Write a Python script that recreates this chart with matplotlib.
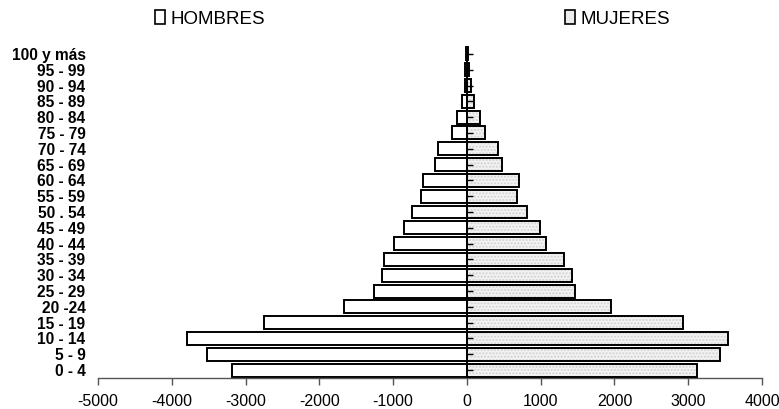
import numpy as np
import matplotlib.pyplot as plt
from matplotlib.patches import Patch

plt.rcParams['font.family'] = ['Liberation Sans', 'DejaVu Sans']

# grupos de edad (de abajo hacia arriba)
grupos = ['0 - 4', '5 - 9', '10 - 14', '15 - 19', '20 -24', '25 - 29', '30 - 34',
          '35 - 39', '40 - 44', '45 - 49', '50 . 54', '55 - 59', '60 - 64', '65 - 69',
          '70 - 74', '75 - 79', '80 - 84', '85 - 89', '90 - 94', '95 - 99', '100 y más']

hombres = [-3180, -3520, -3790, -2745, -1670, -1255, -1150, -1130, -990, -850, -750,
           -620, -600, -430, -390, -200, -135, -68, -31, -23, -8]
mujeres = [3120, 3430, 3540, 2935, 1950, 1470, 1420, 1320, 1070, 990, 813,
           682, 700, 474, 416, 248, 172, 91, 54, 31, 10]

xticks = [-5000, -4000, -3000, -2000, -1000, 0, 1000, 2000, 3000, 4000]

W, H = 779, 409
fig = plt.figure(figsize=(W / 100, H / 100), dpi=100)
ax = fig.add_axes([98 / W, 31 / H, (762 - 98) / W, (378 - 46) / H])

y = np.arange(len(grupos))
alto = 0.82

# hombres: blanco con borde negro
ax.barh(y, hombres, height=alto, color='white', edgecolor='black', linewidth=1.4, zorder=2)

# mujeres: gris claro punteado
ax.barh(y, mujeres, height=alto, color='#f2f2f2', edgecolor='#d2d2d2', hatch='.....',
        linewidth=0, zorder=2)
ax.barh(y, mujeres, height=alto, fill=False, edgecolor='black', linewidth=1.4, zorder=3)

# eje vertical en cero con marcas
ax.axvline(0, color='black', linewidth=1.4, zorder=4)
ax.plot(np.zeros(len(y)), y, linestyle='none', marker=1, markersize=4,
        color='black', markeredgewidth=1, zorder=5)

ax.set_xlim(-5000, 4000)
ax.set_ylim(-0.5, len(grupos) - 0.5)
ax.set_xticks(xticks)
ax.set_xticklabels([str(v) for v in xticks], fontsize=11.5)
ax.set_yticks(y)
ax.set_yticklabels(grupos, fontsize=11.2, fontweight='bold')

for s in ['top', 'right', 'left']:
    ax.spines[s].set_visible(False)
ax.spines['bottom'].set_color('#555555')
ax.spines['bottom'].set_linewidth(1.0)
ax.tick_params(axis='x', direction='out', length=5, width=1, color='#555555', pad=6.5)
ax.tick_params(axis='y', length=0, pad=9)

# leyendas separadas
h1 = Patch(facecolor='white', edgecolor='black', linewidth=1.2, label='HOMBRES')
h2 = Patch(facecolor='#ececec', edgecolor='black', linewidth=1.2, label='MUJERES')
for h, xpos in [(h1, 155), (h2, 565)]:
    fig.legend(handles=[h], loc='center left', bbox_to_anchor=(xpos / W, 1 - 19 / H),
               frameon=False, fontsize=13.5, handlelength=0.55, handleheight=0.7,
               handletextpad=0.3, borderpad=0, borderaxespad=0)

fig.savefig('out.png', dpi=100)
